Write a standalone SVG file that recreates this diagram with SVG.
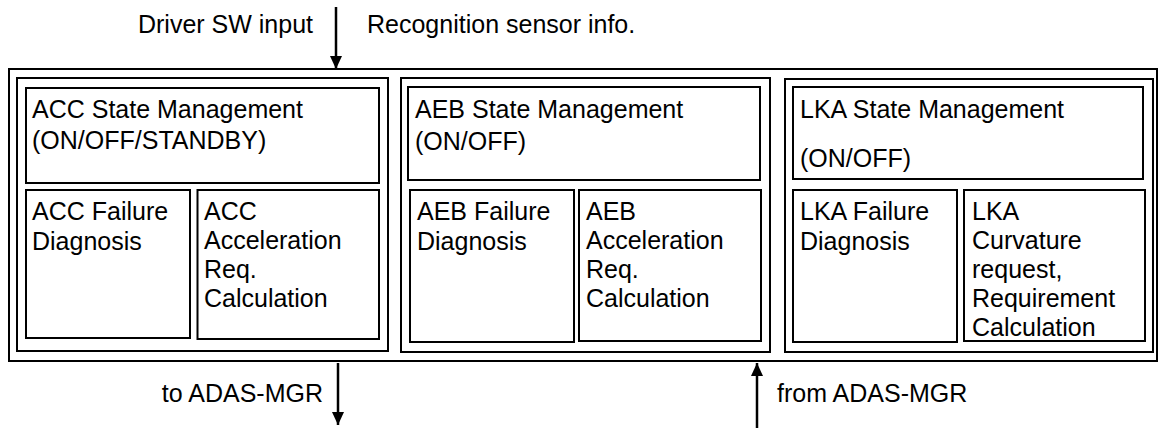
<svg xmlns="http://www.w3.org/2000/svg" width="1159" height="428" viewBox="0 0 1159 428">
<style>
rect{fill:none;stroke:#000;stroke-width:2}
text{font-family:"Liberation Sans",Arial,sans-serif;font-size:25px;fill:#000}
.conn line{stroke:#000;stroke-width:2.5}
</style>
<defs>
<marker id="ah" markerUnits="userSpaceOnUse" markerWidth="14" markerHeight="14" viewBox="0 0 14 14" refX="13" refY="7" orient="auto">
<path d="M0,1 L13,7 L0,13 Z" fill="#000"/>
</marker>
</defs>
<rect id="outer" x="9" y="69" width="1148" height="292"/>
<g id="acc">
<rect x="17" y="78" width="371" height="273"/>
</g>
<g id="acc-state"><rect x="26" y="88" width="353" height="95"/><text x="32" y="118">ACC State Management</text><text x="32" y="149">(ON/OFF/STANDBY)</text></g>
<g id="acc-fail"><rect x="26" y="190" width="164" height="148"/><text x="32" y="220">ACC Failure</text><text x="32" y="250">Diagnosis</text></g>
<g id="acc-accel"><rect x="197.5" y="190" width="181.5" height="149"/><text x="204" y="220">ACC</text><text x="204" y="249">Acceleration</text><text x="204" y="278">Req.</text><text x="204" y="307">Calculation</text></g>
<g id="aeb">
<rect x="401" y="78" width="369" height="274"/>
</g>
<g id="aeb-state"><rect x="408" y="87" width="352" height="93"/><text x="415" y="118">AEB State Management</text><text x="415" y="150">(ON/OFF)</text></g>
<g id="aeb-fail"><rect x="410" y="190" width="164" height="152"/><text x="417" y="220">AEB Failure</text><text x="417" y="250">Diagnosis</text></g>
<g id="aeb-accel"><rect x="579" y="190" width="182" height="151"/><text x="586" y="220">AEB</text><text x="586" y="249">Acceleration</text><text x="586" y="278">Req.</text><text x="586" y="307">Calculation</text></g>
<g id="lka">
<rect x="785" y="79" width="368" height="273"/>
</g>
<g id="lka-state"><rect x="793" y="87" width="350" height="92"/><text x="800" y="118">LKA State Management</text><text x="800" y="167">(ON/OFF)</text></g>
<g id="lka-fail"><rect x="793" y="190" width="164" height="152"/><text x="800" y="220">LKA Failure</text><text x="800" y="250">Diagnosis</text></g>
<g id="lka-curv"><rect x="964" y="190" width="181" height="151"/><text x="972" y="220">LKA</text><text x="972" y="249">Curvature</text><text x="972" y="278">request,</text><text x="972" y="307">Requirement</text><text x="972" y="336">Calculation</text></g>
<g class="conn" id="connectors">
<line x1="336" y1="7" x2="336" y2="69" marker-end="url(#ah)"/>
<line x1="338" y1="363" x2="338" y2="425" marker-end="url(#ah)"/>
<line x1="757" y1="428" x2="757" y2="363" marker-end="url(#ah)"/>
</g>
<g id="labels">
<text x="313" y="33" text-anchor="end">Driver SW input</text>
<text x="367" y="33">Recognition sensor info.</text>
<text x="323" y="402" text-anchor="end">to ADAS-MGR</text>
<text x="777" y="402">from ADAS-MGR</text>
</g>
</svg>
